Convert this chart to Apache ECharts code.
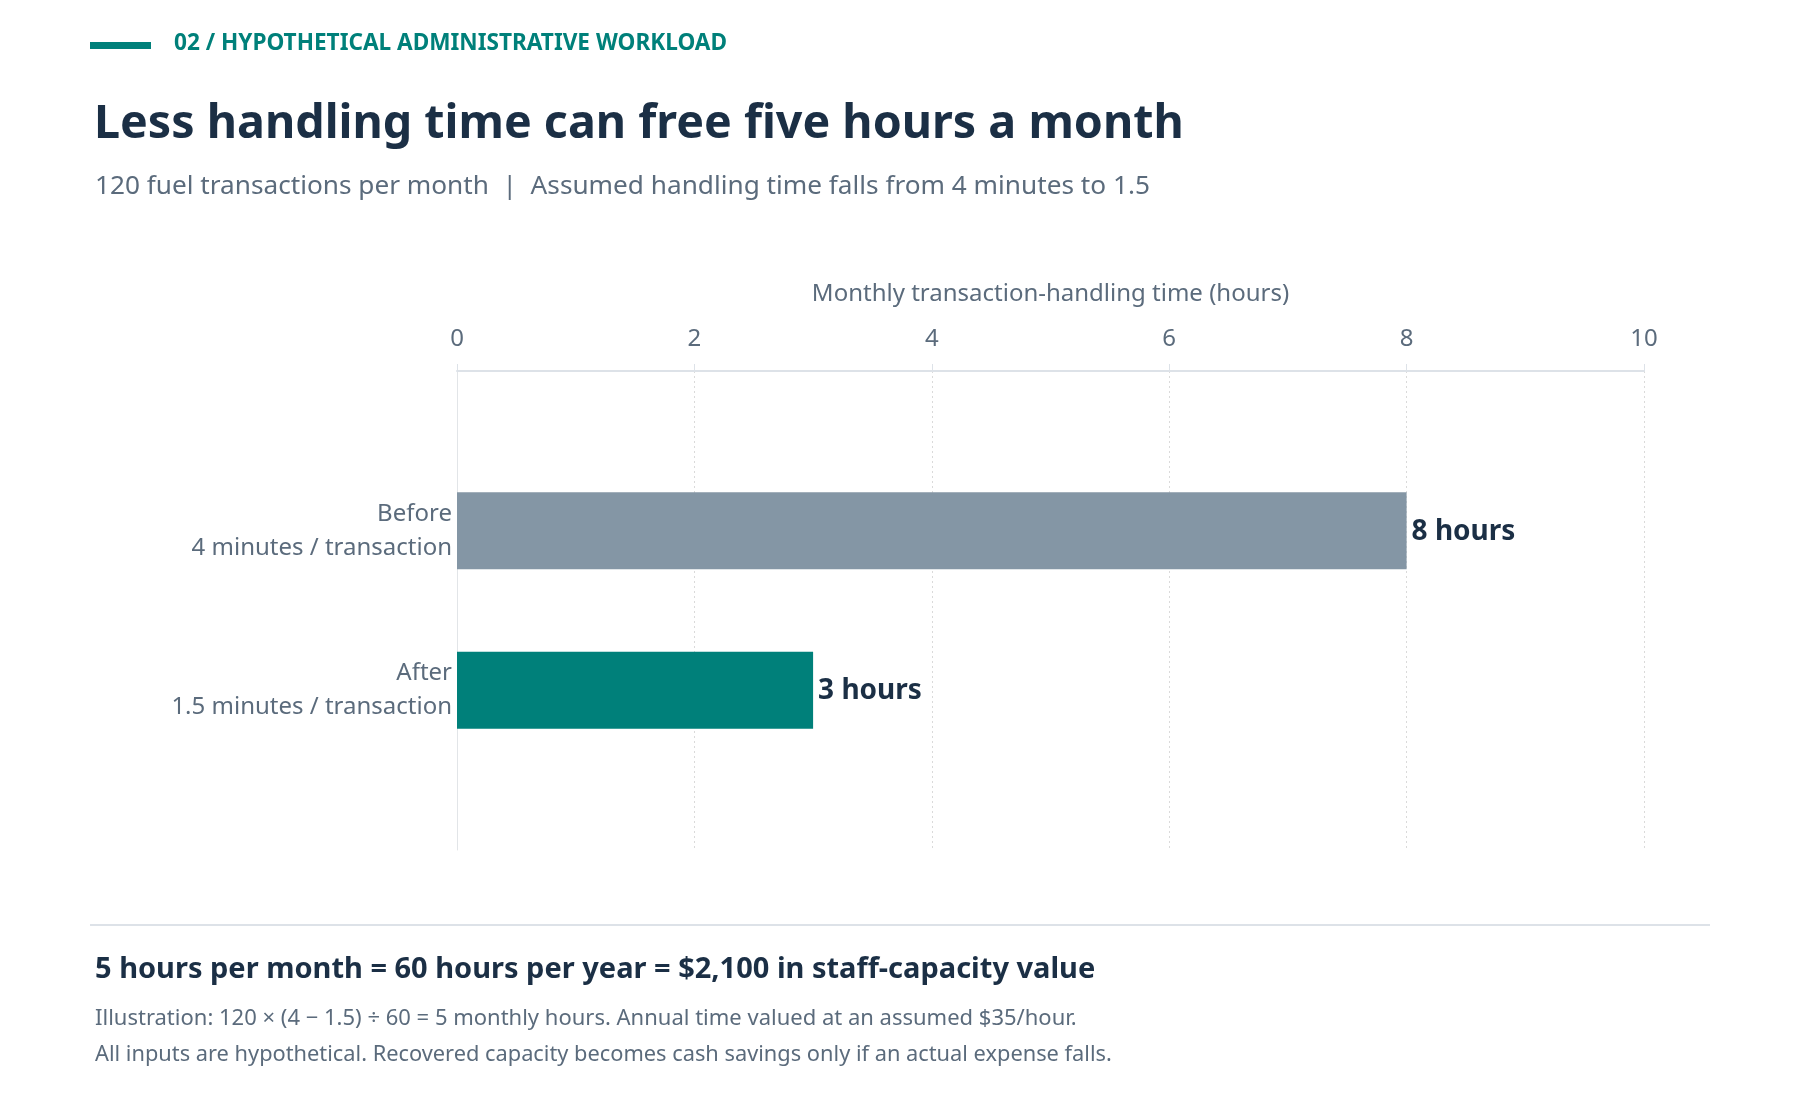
<!DOCTYPE html>
<html>
<head>
<meta charset="utf-8">
<script src="https://cdn.jsdelivr.net/npm/echarts@6/dist/echarts.min.js"></script>
<style>
  html, body { margin: 0; padding: 0; background: #ffffff; }
  #chart { width: 1800px; height: 1120px; }
</style>
</head>
<body>
<div id="chart"></div>
<script>
// data
var categories = ["Before", "After"];
var details = ["4 minutes / transaction", "1.5 minutes / transaction"];
var hours = [8, 3];
var barColors = ["#8496a5", "#00807a"];
var xTicks = [0, 2, 4, 6, 8, 10];

var FONT = "'Noto Sans', 'Open Sans', sans-serif";
var NAVY = "#1b2f45";
var GREY = "#5b6b7c";
var TEAL = "#00807a";

// pad the category axis with an empty slot on each side so the two bars sit at 1/3 and 2/3
var axisCats = [""].concat(categories.map(function (c, i) {
    return c + "\n" + details[i];
})).concat([""]);
var barData = [null].concat(hours.map(function (v, i) {
    return { value: v, itemStyle: { color: barColors[i] } };
})).concat([null]);

var chart = echarts.init(document.getElementById("chart"), null, { renderer: "canvas" });

var option = {
    backgroundColor: "#ffffff",
    animation: false,
    textStyle: { fontFamily: FONT },
    grid: { left: 457, right: 156, top: 371, bottom: 270, containLabel: false },
    xAxis: {
        type: "value",
        position: "top",
        min: xTicks[0],
        max: xTicks[xTicks.length - 1],
        interval: 2,
        name: "Monthly transaction-handling time (hours)",
        nameLocation: "middle",
        nameGap: 65,
        nameTextStyle: { color: GREY, fontSize: 24, fontFamily: FONT },
        axisLine: { show: true, lineStyle: { color: "#dde2e8", width: 2 } },
        axisTick: { show: true, length: 7, lineStyle: { color: "#dde2e8" } },
        axisLabel: { color: GREY, fontSize: 24, margin: 20, fontFamily: FONT },
        splitLine: { show: true, lineStyle: { color: "#dadada", type: [2, 3], width: 1 } }
    },
    yAxis: {
        type: "category",
        inverse: true,
        boundaryGap: false,
        data: axisCats,
        axisLine: { show: true, lineStyle: { color: "#e2e5e8", width: 1 } },
        axisTick: { show: false },
        splitLine: { show: false },
        axisLabel: {
            color: GREY,
            fontSize: 24,
            lineHeight: 34,
            margin: 5,
            align: "right",
            fontFamily: FONT
        }
    },
    series: [{
        type: "bar",
        data: barData,
        barWidth: 77,
        label: {
            show: true,
            position: "right",
            distance: 5,
            offset: [0, 1],
            formatter: "{c} hours",
            color: NAVY,
            fontSize: 28,
            fontWeight: "bold",
            fontFamily: FONT
        }
    }],
    graphic: [
        { type: "rect", shape: { x: 90, y: 42, width: 61, height: 7 }, style: { fill: TEAL } },
        { type: "text", x: 174, y: 44, style: { text: "02 / HYPOTHETICAL ADMINISTRATIVE WORKLOAD", fill: TEAL, font: "bold 22.6px " + FONT, verticalAlign: "middle" } },
        { type: "text", x: 94, y: 125, style: { text: "Less handling time can free five hours a month", fill: NAVY, font: "bold 46.6px " + FONT, verticalAlign: "middle" } },
        { type: "text", x: 95, y: 186.5, style: { text: "120 fuel transactions per month  |  Assumed handling time falls from 4 minutes to 1.5", fill: GREY, font: "26.2px " + FONT, verticalAlign: "middle" } },
        { type: "rect", shape: { x: 90, y: 924, width: 1620, height: 2 }, style: { fill: "#dde2e8" } },
        { type: "text", x: 95, y: 970, style: { text: "5 hours per month = 60 hours per year = $2,100 in staff-capacity value", fill: NAVY, font: "bold 29px " + FONT, verticalAlign: "middle" } },
        { type: "text", x: 95, y: 1019, style: { text: "Illustration: 120 \u00d7 (4 \u2212 1.5) \u00f7 60 = 5 monthly hours. Annual time valued at an assumed $35/hour.", fill: GREY, font: "22px " + FONT, verticalAlign: "middle" } },
        { type: "text", x: 95, y: 1055, style: { text: "All inputs are hypothetical. Recovered capacity becomes cash savings only if an actual expense falls.", fill: GREY, font: "21.8px " + FONT, verticalAlign: "middle" } }
    ]
};

chart.setOption(option);
</script>
</body>
</html>
